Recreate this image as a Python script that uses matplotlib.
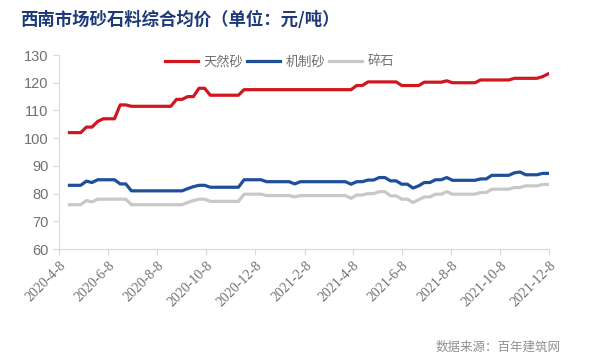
import pandas as pd
import matplotlib
matplotlib.use("Agg")
import matplotlib.pyplot as plt

plt.rcParams['font.family'] = ['Noto Sans CJK SC', 'DejaVu Sans']

# 周度数据（2020-4-21 起，每周一个点）
fechas = pd.date_range("2020-04-21", periods=86, freq="7D")

tianran = [102, 102, 102, 104, 104, 106, 107, 107, 107, 112,
           112, 111.5, 111.5, 111.5, 111.5, 111.5, 111.5, 111.5, 111.5, 114,
           114, 115, 115, 118, 118, 115.5, 115.5, 115.5, 115.5, 115.5,
           115.5, 117.5, 117.5, 117.5, 117.5, 117.5, 117.5, 117.5, 117.5, 117.5,
           117.5, 117.5, 117.5, 117.5, 117.5, 117.5, 117.5, 117.5, 117.5, 117.5,
           117.5, 119, 119, 120.3, 120.3, 120.3, 120.3, 120.3, 120.3, 119,
           119, 119, 119, 120.2, 120.2, 120.2, 120.2, 120.7, 120, 120,
           120, 120, 120, 121, 121, 121, 121, 121, 121, 121.6,
           121.6, 121.6, 121.6, 121.6, 122.2, 123.2]

jizhi = [83, 83, 83, 84.5, 84, 85, 85, 85, 85, 83.5,
         83.5, 81, 81, 81, 81, 81, 81, 81, 81, 81,
         81, 81.8, 82.5, 83, 83, 82.3, 82.3, 82.3, 82.3, 82.3,
         82.3, 85, 85, 85, 85, 84.3, 84.3, 84.3, 84.3, 84.3,
         83.5, 84.3, 84.3, 84.3, 84.3, 84.3, 84.3, 84.3, 84.3, 84.3,
         83.4, 84.3, 84.3, 84.9, 84.9, 85.8, 85.8, 84.6, 84.6, 83.4,
         83.4, 82, 82.8, 84, 84, 85, 85, 85.8, 84.8, 84.8,
         84.8, 84.8, 84.8, 85.3, 85.3, 86.6, 86.6, 86.6, 86.6, 87.5,
         87.8, 86.8, 86.8, 86.8, 87.3, 87.3]

suishi = [76, 76, 76, 77.5, 77, 78, 78, 78, 78, 78,
          78, 76, 76, 76, 76, 76, 76, 76, 76, 76,
          76, 76.8, 77.5, 78, 78, 77.2, 77.2, 77.2, 77.2, 77.2,
          77.2, 79.8, 79.8, 79.8, 79.8, 79.3, 79.3, 79.3, 79.3, 79.3,
          78.8, 79.3, 79.3, 79.3, 79.3, 79.3, 79.3, 79.3, 79.3, 79.3,
          78.3, 79.5, 79.5, 80, 80, 80.7, 80.7, 79.2, 79.2, 78,
          78, 76.8, 77.8, 78.8, 78.8, 79.8, 79.8, 80.7, 79.8, 79.8,
          79.8, 79.8, 79.8, 80.4, 80.4, 81.6, 81.6, 81.6, 81.6, 82.2,
          82.2, 82.8, 82.8, 82.8, 83.3, 83.3]

etiquetas = ["2020-4-8", "2020-6-8", "2020-8-8", "2020-10-8", "2020-12-8", "2021-2-8",
             "2021-4-8", "2021-6-8", "2021-8-8", "2021-10-8", "2021-12-8"]
ticks_y = [60, 70, 80, 90, 100, 110, 120, 130]

fig = plt.figure(figsize=(5.9, 3.62), dpi=100)
ax = fig.add_axes([0.1, 0.312, 0.8305, 0.536])

ax.plot(fechas, tianran, color="#d0161e", lw=2.3, label="天然砂")
ax.plot(fechas, jizhi, color="#1f4e9a", lw=2.3, label="机制砂")
ax.plot(fechas, suishi, color="#c8c8c8", lw=2.3, label="碎石")

ax.set_xlim(pd.Timestamp("2020-04-08"), pd.Timestamp("2021-12-08"))
ax.set_ylim(60, 130)
ax.set_yticks(ticks_y)
ax.set_xticks(pd.to_datetime(etiquetas, format="%Y-%m-%d"))
ax.set_xticklabels(etiquetas, rotation=45, ha="right", rotation_mode="anchor",
                   family=["Liberation Serif"], fontsize=10, color="#707070")
for t in ax.get_yticklabels():
    t.set_family(["Liberation Sans Narrow", "Liberation Sans"])
    t.set_fontsize(10.5)
    t.set_color("#707070")

for s in ["top", "right"]:
    ax.spines[s].set_visible(False)
for s in ["left", "bottom"]:
    ax.spines[s].set_color("#d9d9d9")
ax.tick_params(axis="both", colors="#d9d9d9", length=4, labelcolor="#707070")
ax.tick_params(axis="x", pad=3)

ax.legend(loc="upper center", bbox_to_anchor=(0.45, 1.06), ncol=3, frameon=False,
          fontsize=9.5, handlelength=2.5, handletextpad=0.4, columnspacing=0.3,
          labelcolor="#707070")

fig.text(0.034, 0.945, "西南市场砂石料综合均价（单位：元/吨）", fontsize=12.5,
         fontweight="bold", color="#1f3a78", va="center")
fig.text(0.95, 0.04, "数据来源：百年建筑网", fontsize=9, color="#909090",
         ha="right", va="center")

fig.savefig("out.png", dpi=100)
